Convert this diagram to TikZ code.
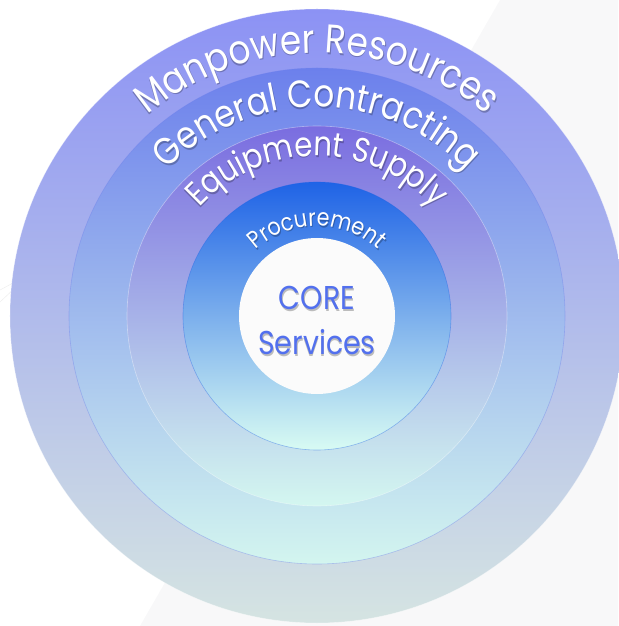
\documentclass[tikz,border=0pt]{standalone}
\usepackage{fontspec}
\setmainfont{Poppins}
\newfontfamily\anelfont[FakeStretch=0.86]{Poppins}
\usetikzlibrary{decorations.text}

\definecolor{manpowerTopo}{HTML}{8C92F4}
\definecolor{manpowerBase}{HTML}{D5E4E2}
\definecolor{contractTopo}{HTML}{6C80EC}
\definecolor{contractBase}{HTML}{D3F5EF}
\definecolor{equipTopo}{HTML}{7A6DE0}
\definecolor{equipBase}{HTML}{D4F7F0}
\definecolor{procTopo}{HTML}{1F63E6}
\definecolor{procMeio}{HTML}{66A2EB}
\definecolor{procBase}{HTML}{D8FBF3}
\definecolor{coreTexto}{HTML}{5270EE}
\definecolor{fundoCinza}{HTML}{F8F8F9}

% texto curvo sobre um arco: raio, tamanho, cor, texto
\newcommand{\rotuloarco}[4]{%
  \path[decorate, decoration={text along path, text align=center,
      text={|\anelfont\fontsize{#2}{#2}\selectfont\color{#3}|#4}}]
    (170:#1) arc[start angle=170, end angle=10, radius=#1];}

\begin{document}
\begin{tikzpicture}[x=1pt, y=1pt,
    anel/.style={line width=0.6pt, draw opacity=0.4},
    rede/.style={gray, opacity=0.12, line width=0.6pt}]
  \useasboundingbox (-317,-310) rectangle (301,316);

  % Fundo cinza claro
  \fill[fundoCinza] (183,316) -- (301,316) -- (301,-310) -- (-177,-310) -- cycle;

  % Linhas de rede (quase apagadas)
  \draw[rede] (-317,26) -- (-276,48) -- (-234,69) -- (-225,60);
  \draw[rede] (-276,48) -- (-227,34);
  \draw[rede] (-317,14) .. controls (-300,30) .. (-276,48);
  \draw[rede] (268,54) -- (276,19) -- (301,28);
  \draw[rede] (276,19) -- (301,6);

  % Anéis
  \shade[anel, draw=white, top color=manpowerTopo, bottom color=manpowerBase] (0,0) circle (307);
  \shade[anel, draw=contractTopo, top color=contractTopo, bottom color=contractBase] (0,0) circle (248);
  \shade[anel, draw=white, top color=equipTopo, bottom color=equipBase] (0,0) circle (190);
  \shade[anel, draw=procTopo, top color=procTopo, middle color=procMeio, bottom color=procBase] (0,0) circle (134);
  \fill[white!97!gray] (0,0) circle (78);

  % Sombra dos textos
  \begin{scope}[opacity=0.25, shift={(0.8,-1.5)}]
    \rotuloarco{263}{40}{black}{Manpower Resources}
    \rotuloarco{209}{38}{black}{General Contracting}
    \rotuloarco{160}{34}{black}{Equipment Supply}
    \rotuloarco{90}{24}{black}{Procurement}
    \node[align=center, font=\anelfont\fontsize{33}{45}\selectfont, black] at (0,-4.5) {CORE\\Services};
  \end{scope}

  % Textos
  \rotuloarco{263}{40}{white}{Manpower Resources}
  \rotuloarco{209}{38}{white}{General Contracting}
  \rotuloarco{160}{34}{white}{Equipment Supply}
  \rotuloarco{90}{24}{white}{Procurement}
  \node[align=center, font=\anelfont\fontsize{33}{45}\selectfont, coreTexto] (core) at (0,-4.5) {CORE\\Services};
\end{tikzpicture}
\end{document}
